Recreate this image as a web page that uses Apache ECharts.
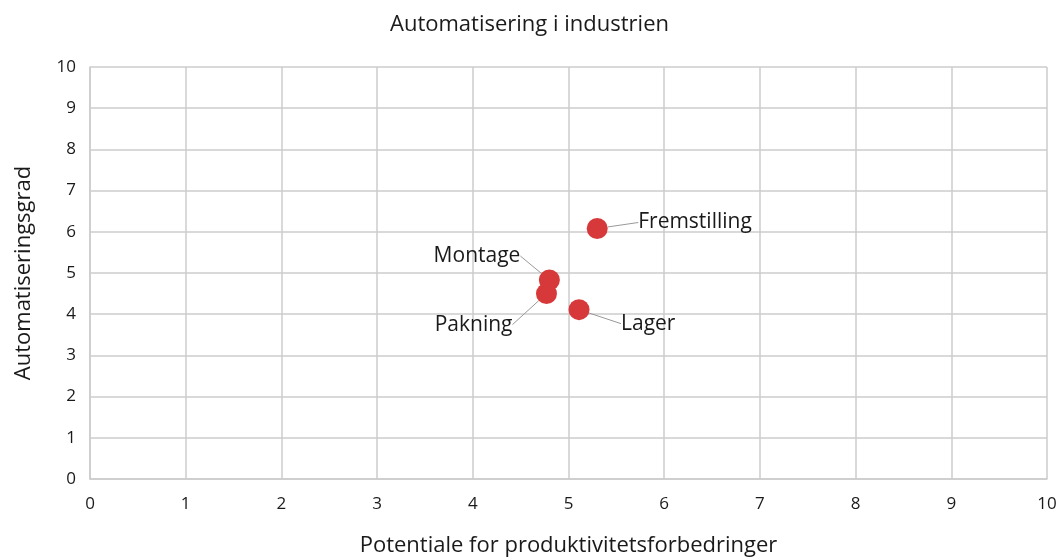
<!DOCTYPE html>
<html>
<head>
<meta charset="utf-8">
<script src="https://cdn.jsdelivr.net/npm/echarts@6/dist/echarts.min.js"></script>
<style>
  html, body { margin: 0; padding: 0; background: #fff; }
  #main { width: 1059px; height: 560px; }
</style>
</head>
<body>
<div id="main"></div>
<script>
// data
const names = ['Fremstilling', 'Montage', 'Pakning', 'Lager'];
const potentiale = [5.30, 4.80, 4.77, 5.11];
const automatisering = [6.08, 4.83, 4.50, 4.11];

// label placement (offsets from the point centre)
const labelOffsets = [
    { dx: 41, dy: -6, align: 'left' },
    { dx: -29, dy: -24, align: 'right' },
    { dx: -34, dy: 31, align: 'right' },
    { dx: 42, dy: 14, align: 'left' }
];

const font = '"Open Sans", sans-serif';
const chart = echarts.init(document.getElementById('main'));

const axisCommon = {
    type: 'value',
    min: 0,
    max: 10,
    interval: 1,
    nameLocation: 'middle',
    nameTextStyle: { fontFamily: font, fontSize: 22, color: '#1a1a1a' },
    axisLine: { show: true, lineStyle: { color: '#cccccc', width: 1.5 } },
    axisTick: { show: false },
    axisLabel: { fontFamily: font, fontSize: 17, color: '#1a1a1a' },
    splitLine: { show: true, lineStyle: { color: '#cccccc', width: 1.5 } }
};

chart.setOption({
    animation: false,
    title: {
        text: 'Automatisering i industrien',
        left: 'center',
        top: 9,
        textStyle: { fontFamily: font, fontSize: 22, fontWeight: 'normal', color: '#1a1a1a' }
    },
    grid: { left: 90, right: 12, top: 67, bottom: 81, outerBoundsMode: 'none', containLabel: false },
    xAxis: Object.assign({}, axisCommon, {
        name: 'Potentiale for produktivitetsforbedringer',
        nameGap: 56,
        axisLabel: Object.assign({}, axisCommon.axisLabel, { margin: 17 })
    }),
    yAxis: Object.assign({}, axisCommon, {
        name: 'Automatiseringsgrad',
        nameGap: 55,
        axisLabel: Object.assign({}, axisCommon.axisLabel, { margin: 14 })
    }),
    series: [{
        type: 'scatter',
        symbolSize: 21,
        itemStyle: { color: '#d7393a', opacity: 1 },
        data: names.map(function (n, i) {
            return { name: n, value: [potentiale[i], automatisering[i]] };
        }),
        label: {
            show: true,
            position: 'inside',
            formatter: '{b}',
            fontFamily: font,
            fontSize: 21,
            color: '#1a1a1a'
        },
        labelLine: {
            show: true,
            lineStyle: { color: '#999999', width: 1 }
        },
        labelLayout: function (params) {
            return labelOffsets[params.dataIndex];
        }
    }]
});
</script>
</body>
</html>
